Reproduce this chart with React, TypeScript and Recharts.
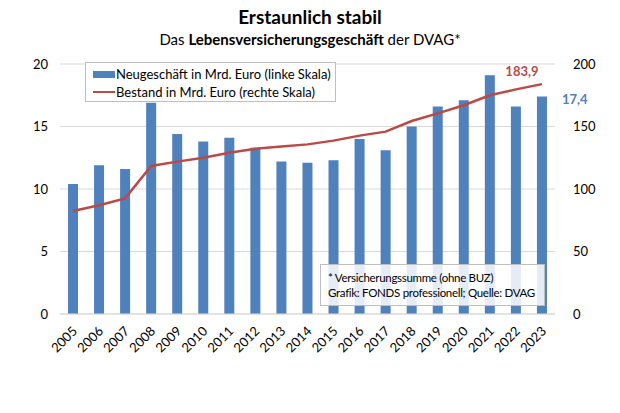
import React from "react";
import {
  ComposedChart,
  Bar,
  Line,
  XAxis,
  YAxis,
  CartesianGrid,
} from "recharts";

// ── Data ─────────────────────────────────────────────────────────
const years = [
  "2005", "2006", "2007", "2008", "2009", "2010", "2011", "2012", "2013", "2014",
  "2015", "2016", "2017", "2018", "2019", "2020", "2021", "2022", "2023",
];
const neugeschaeft = [
  10.4, 11.9, 11.6, 16.9, 14.4, 13.8, 14.1, 13.3, 12.2, 12.1,
  12.3, 14.0, 13.1, 15.0, 16.6, 17.1, 19.1, 16.6, 17.4,
];
const bestand = [
  82.4, 87, 92.5, 118.4, 121.9, 125, 129, 132.2, 134, 135.7,
  138.7, 142.7, 145.9, 154.4, 160.5, 167, 175, 179.7, 183.9,
];
const leftTicks = [0, 5, 10, 15, 20];
const rightTicks = [0, 50, 100, 150, 200];

const BLUE = "#4f81bd";
const RED = "#b94a47";
const FONT = "Lato, 'Open Sans', sans-serif";

const data = years.map((y, i) => ({
  year: y,
  neu: neugeschaeft[i],
  bestand: bestand[i],
}));

const fmt = (v: number) => v.toFixed(1).replace(".", ",");
const last = years.length - 1;

// ── Custom ticks / labels ─────────────────────────────────────────
function YearTick({ x, y, payload }: any) {
  return (
    <text
      x={x + 5}
      y={y + 10}
      textAnchor="end"
      fontSize={13}
      fontFamily={FONT}
      fill="#000"
      transform={`rotate(-45 ${x + 5} ${y + 10})`}
    >
      {payload.value}
    </text>
  );
}

function BarEndLabel({ x, y, width, index }: any) {
  if (index !== last) return null;
  return (
    <text
      x={x + width + 15}
      y={y + 7}
      fontSize={13}
      fontWeight={700}
      fontFamily={FONT}
      fill={BLUE}
    >
      {fmt(neugeschaeft[index])}
    </text>
  );
}

function LineEndLabel({ x, y, index }: any) {
  if (index !== last) return null;
  return (
    <text
      x={x - 20}
      y={y - 8}
      textAnchor="middle"
      fontSize={13}
      fontWeight={700}
      fontFamily={FONT}
      fill={RED}
    >
      {fmt(bestand[index])}
    </text>
  );
}

export default function App() {
  return (
    <div
      style={{
        position: "absolute",
        left: 0,
        top: 0,
        width: 620,
        height: 413,
        background: "#fff",
        fontFamily: FONT,
        color: "#000",
      }}
    >
      <div
        style={{
          position: "absolute",
          top: 5,
          width: 620,
          textAlign: "center",
          fontSize: 19,
          fontWeight: 700,
        }}
      >
        Erstaunlich stabil
      </div>
      <div
        style={{
          position: "absolute",
          top: 30,
          width: 620,
          textAlign: "center",
          fontSize: 15,
        }}
      >
        Das <b>Lebensversicherungsgeschäft</b> der DVAG*
      </div>

      <div style={{ position: "absolute", left: 0, top: 0 }}>
        <ComposedChart
          width={620}
          height={413}
          data={data}
          margin={{ top: 64, right: 0, bottom: 39, left: 0 }}
          barCategoryGap={0}
        >
          <CartesianGrid vertical={false} stroke="#d9d9d9" yAxisId="left" />
          <XAxis
            dataKey="year"
            height={60}
            tick={<YearTick />}
            tickLine={false}
            axisLine={{ stroke: "#d9d9d9" }}
            interval={0}
          />
          <YAxis
            yAxisId="left"
            width={60}
            domain={[0, 20]}
            ticks={leftTicks}
            tick={{ fontSize: 13, fill: "#000", fontFamily: FONT }}
            tickLine={false}
            axisLine={false}
            tickMargin={6}
          />
          <YAxis
            yAxisId="right"
            orientation="right"
            width={65}
            domain={[0, 200]}
            ticks={rightTicks}
            tick={{ fontSize: 13, fill: "#000", fontFamily: FONT, textAnchor: "start" }}
            tickLine={false}
            axisLine={false}
            tickMargin={12}
          />
          <Bar
            yAxisId="left"
            dataKey="neu"
            fill={BLUE}
            barSize={10}
            isAnimationActive={false}
            label={<BarEndLabel />}
          />
          <Line
            yAxisId="right"
            dataKey="bestand"
            type="linear"
            stroke={RED}
            strokeWidth={2.5}
            dot={false}
            isAnimationActive={false}
            label={<LineEndLabel />}
          />
        </ComposedChart>
      </div>

      {/* Legend */}
      <div
        style={{
          position: "absolute",
          left: 85,
          top: 62,
          width: 251,
          height: 40,
          border: "1px solid #bfbfbf",
          background: "#fff",
          fontSize: 13,
          padding: "2px 0 0 7px",
          lineHeight: "18px",
          boxSizing: "border-box",
          whiteSpace: "nowrap",
        }}
      >
        <div style={{ display: "flex", alignItems: "center" }}>
          <span style={{ display: "inline-block", width: 22, height: 7, background: BLUE, marginRight: 1 }} />
          Neugeschäft in Mrd. Euro (linke Skala)
        </div>
        <div style={{ display: "flex", alignItems: "center" }}>
          <span style={{ display: "inline-block", width: 22, height: 2.5, background: RED, marginRight: 1 }} />
          Bestand in Mrd. Euro (rechte Skala)
        </div>
      </div>

      {/* Footnote */}
      <div
        style={{
          position: "absolute",
          left: 320,
          top: 264,
          width: 225,
          height: 42,
          border: "1px solid #bfbfbf",
          background: "rgba(255,255,255,0.85)",
          fontSize: 11.5,
          letterSpacing: -0.3,
          padding: "5px 0 0 7px",
          lineHeight: "15px",
          boxSizing: "border-box",
          whiteSpace: "nowrap",
        }}
      >
        <div>* Versicherungssumme (ohne BUZ)</div>
        <div>Grafik: FONDS professionell; Quelle: DVAG</div>
      </div>
    </div>
  );
}
